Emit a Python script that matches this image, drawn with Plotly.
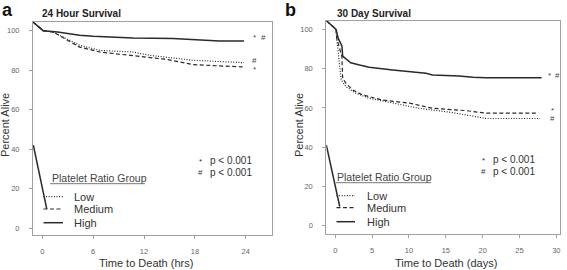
import plotly.graph_objects as go

W, H = 567, 270

# ---------------- data ----------------
# Panel a: 24 hour survival (hours)
a_high_x = [-1.1, 0.1, 1.8, 4.4, 6.0, 10.7, 15.4, 18.6, 20.9, 23.8]
a_high_y = [104.4, 100, 99.3, 97.7, 97.2, 96.3, 96.0, 95.1, 94.8, 94.8]
a_low_x = [-1.1, 0.1, 1.3, 4.4, 6.8, 10.7, 12.7, 17.8, 23.8]
a_low_y = [104.4, 100, 99.3, 92.6, 90.0, 89.2, 87.5, 85.0, 83.8]
a_med_x = [-1.1, 0.1, 1.3, 4.4, 6.8, 10.7, 14.6, 17.8, 23.8]
a_med_y = [104.4, 100, 99.3, 91.7, 89.2, 87.5, 85.5, 82.8, 81.6]
a_stray_x = [-1.06, 0.52]
a_stray_y = [42.0, 9.7]

# Panel b: 30 day survival (days)
b_high_x = [-1.2, 0.1, 0.4, 0.9, 1.0, 2.1, 3.3, 4.6, 7.8, 10.1, 12.3, 13.2, 16.8, 18.7, 20.4, 28.0]
b_high_y = [104.4, 100, 95.4, 91.5, 86.4, 83.0, 81.8, 80.7, 79.3, 78.4, 77.6, 76.8, 76.3, 75.6, 75.4, 75.4]
b_med_x = [-1.2, 0.1, 0.2, 0.9, 1.0, 1.45, 2.4, 3.7, 6.4, 10.1, 13.2, 17.8, 20.5, 27.4]
b_med_y = [104.4, 100, 95.4, 86.0, 75.1, 72.5, 69.1, 66.6, 64.0, 62.4, 59.8, 58.6, 57.3, 57.3]
b_low_x = [-1.2, 0.1, 0.2, 0.8, 1.45, 2.8, 4.6, 7.8, 11.4, 15.95, 18.7, 20.5, 27.8]
b_low_y = [104.4, 100, 95.0, 74.2, 70.8, 67.5, 64.9, 62.4, 59.8, 57.6, 55.6, 54.6, 54.6]
b_stray_x = [-1.22, 0.6]
b_stray_y = [41.2, 9.8]

a_xticks = [0, 6, 12, 18, 24]
b_xticks = [0, 5, 10, 15, 20, 25, 30]
yticks = [0, 20, 40, 60, 80, 100]
groups = ["Low", "Medium", "High"]
pvals = ["p < 0.001", "p < 0.001"]

# ---------------- helpers ----------------
def px(x):
    return x / W

def py(y):
    return 1 - y / H

FONT = "Liberation Sans, Arial, Helvetica, sans-serif"
INK = "#2a2a2a"
GRAY = "#666666"
FRAME = "#a0a0a0"

styles = {
    "Low": dict(color=INK, width=1.2, dash="1px,1.6px"),
    "Medium": dict(color=INK, width=1.2, dash="4px,2.5px"),
    "High": dict(color=INK, width=1.5),
}

fig = go.Figure()

def add(x, y, ax, style):
    fig.add_trace(go.Scatter(x=x, y=y, mode="lines", line=style,
                             xaxis=ax[0], yaxis=ax[1], showlegend=False,
                             hoverinfo="skip", cliponaxis=True))

add(a_low_x, a_low_y, ("x", "y"), styles["Low"])
add(a_med_x, a_med_y, ("x", "y"), styles["Medium"])
add(a_high_x, a_high_y, ("x", "y"), styles["High"])
add(a_stray_x, a_stray_y, ("x", "y"), styles["High"])
add(b_low_x, b_low_y, ("x2", "y2"), styles["Low"])
add(b_med_x, b_med_y, ("x2", "y2"), styles["Medium"])
add(b_high_x, b_high_y, ("x2", "y2"), styles["High"])
add(b_stray_x, b_stray_y, ("x2", "y2"), styles["High"])

axis_common = dict(showline=True, linecolor=FRAME, linewidth=1, mirror=True,
                   showgrid=False, zeroline=False, ticks="outside", ticklen=3,
                   tickcolor=FRAME, tickwidth=1,
                   tickfont=dict(family=FONT, size=7.5, color=GRAY))

fig.update_layout(
    width=W, height=H, autosize=False,
    margin=dict(l=0, r=0, t=0, b=0),
    paper_bgcolor="white", plot_bgcolor="white",
    xaxis=dict(domain=[px(33), px(272)], range=[-1.1, 27.1], tickvals=a_xticks,
               anchor="y", ticklabelstandoff=6, **axis_common),
    yaxis=dict(domain=[py(235), py(22)], range=[-3.5, 104.4], tickvals=yticks,
               anchor="x", ticklabelstandoff=8, **axis_common),
    xaxis2=dict(domain=[px(326.3), px(559.7)], range=[-1.22, 30.46], tickvals=b_xticks,
                anchor="y2", ticklabelstandoff=6, **axis_common),
    yaxis2=dict(domain=[py(234), py(20.7)], range=[-4.2, 104.4], tickvals=yticks,
                anchor="x2", ticklabelstandoff=8, **axis_common),
)

ann = []
def text(x, y, t, size, xanchor="left", color=INK, bold=False, angle=0):
    ann.append(dict(x=px(x), y=py(y), xref="paper", yref="paper", text=(f"<b>{t}</b>" if bold else t),
                    showarrow=False, xanchor=xanchor, yanchor="middle", textangle=angle,
                    font=dict(family=FONT, size=size, color=color), borderpad=0))

# panel letters and titles
text(1, 10.5, "a", 18, bold=True, color="#111")
text(284, 10.5, "b", 18, bold=True, color="#111")
text(40.5, 14, "24 Hour Survival", 10, bold=True, color="#222")
text(336, 14, "30 Day Survival", 10, bold=True, color="#222")

# axis titles
text(146, 263, "Time to Death (hrs)", 11, xanchor="center", color="#333")
text(446, 263, "Time to Death (days)", 11, xanchor="center", color="#333")
text(5, 125, "Percent Alive", 11, xanchor="center", color="#333", angle=-90)
text(299, 125, "Percent Alive", 11, xanchor="center", color="#333", angle=-90)

# end-of-curve markers
text(254, 37.5, "*", 8, xanchor="center", color="#444")
text(263.5, 37, "#", 8, xanchor="center", color="#444")
text(254, 61, "#", 8, xanchor="center", color="#444")
text(254, 69.5, "*", 8, xanchor="center", color="#444")
text(549.7, 75.5, "*", 8, xanchor="center", color="#444")
text(557.5, 75, "#", 8, xanchor="center", color="#444")
text(552.3, 110.5, "*", 8, xanchor="center", color="#444")
text(552.3, 118.3, "#", 8, xanchor="center", color="#444")

# p-values
for (sx, tx, y0) in [(200, 209, 160.7), (483, 492.3, 159.5)]:
    text(sx, y0 + 0.5, "*", 8, xanchor="center", color="#333")
    text(tx, y0, pvals[0], 10, color="#333")
    text(sx, y0 + 11.6, "#", 8, xanchor="center", color="#333")
    text(tx, y0 + 11.6, pvals[1], 10, color="#333")

shapes = []
# legends
for (lx, tx, ty, ul_end, key0, key1, item_y) in [
    (50.7, 73.3, 177.7, 145, 43.5, 63, [196.7, 209, 222.7]),
    (336.3, 366.3, 176.7, 431, 336.5, 355, [195.7, 207.7, 221.7]),
]:
    text(lx, ty, "Platelet Ratio Group", 10.5, color="#444")
    shapes.append(dict(type="line", xref="paper", yref="paper", x0=px(lx - 0.5), x1=px(ul_end),
                       y0=py(ty + 6), y1=py(ty + 6), line=dict(color="#777", width=1)))
    for g, yy in zip(groups, item_y):
        text(tx, yy, g, 11, color="#333")
        st = styles[g]
        shapes.append(dict(type="line", xref="paper", yref="paper", x0=px(key0), x1=px(key1),
                           y0=py(yy), y1=py(yy), line=dict(color=st["color"], width=st["width"],
                                                        dash=st.get("dash", "solid"))))

fig.update_layout(annotations=ann, shapes=shapes)
fig.write_html("out.html", config={"displayModeBar": False},
               post_script="document.body.style.margin='0';document.body.style.padding='0';")
